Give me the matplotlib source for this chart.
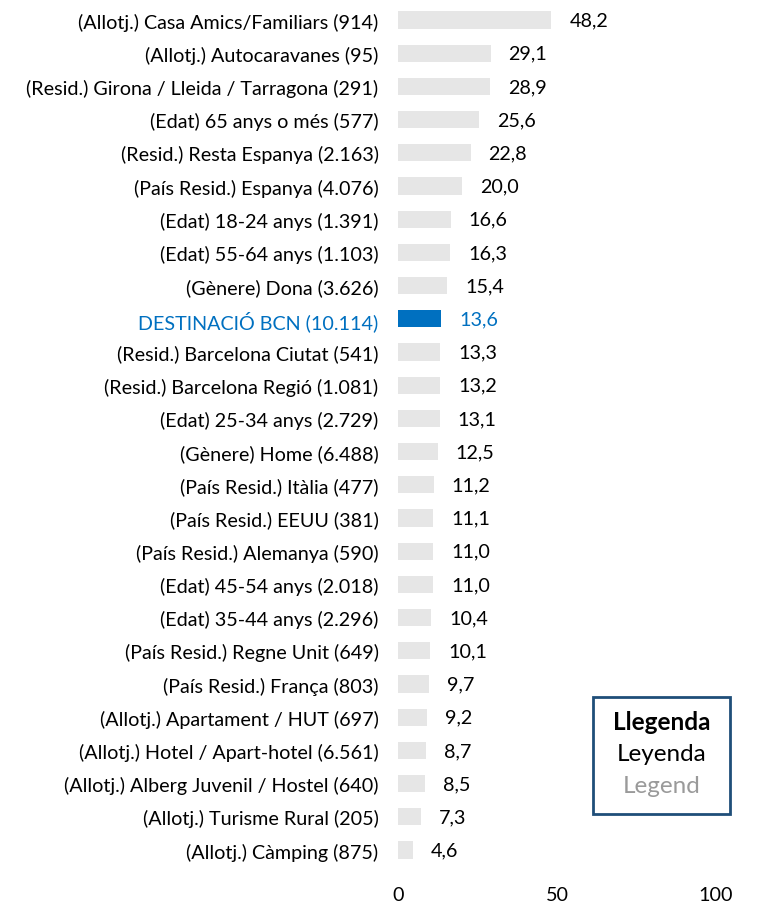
import matplotlib
matplotlib.use("Agg")
import matplotlib.pyplot as plt
from matplotlib.patches import Rectangle

categories = [
    "(Allotj.) Casa Amics/Familiars (914)",
    "(Allotj.) Autocaravanes (95)",
    "(Resid.) Girona / Lleida / Tarragona (291)",
    "(Edat) 65 anys o més (577)",
    "(Resid.) Resta Espanya (2.163)",
    "(País Resid.) Espanya (4.076)",
    "(Edat) 18-24 anys (1.391)",
    "(Edat) 55-64 anys (1.103)",
    "(Gènere) Dona (3.626)",
    "DESTINACIÓ BCN (10.114)",
    "(Resid.) Barcelona Ciutat (541)",
    "(Resid.) Barcelona Regió (1.081)",
    "(Edat) 25-34 anys (2.729)",
    "(Gènere) Home (6.488)",
    "(País Resid.) Itàlia (477)",
    "(País Resid.) EEUU (381)",
    "(País Resid.) Alemanya (590)",
    "(Edat) 45-54 anys (2.018)",
    "(Edat) 35-44 anys (2.296)",
    "(País Resid.) Regne Unit (649)",
    "(País Resid.) França (803)",
    "(Allotj.) Apartament / HUT (697)",
    "(Allotj.) Hotel / Apart-hotel (6.561)",
    "(Allotj.) Alberg Juvenil / Hostel (640)",
    "(Allotj.) Turisme Rural (205)",
    "(Allotj.) Càmping (875)",
]
values = [48.2, 29.1, 28.9, 25.6, 22.8, 20.0, 16.6, 16.3, 15.4, 13.6, 13.3, 13.2,
          13.1, 12.5, 11.2, 11.1, 11.0, 11.0, 10.4, 10.1, 9.7, 9.2, 8.7, 8.5, 7.3, 4.6]
highlight = "DESTINACIÓ BCN (10.114)"
x_ticks = [0, 50, 100]
legend_lines = ["Llegenda", "Leyenda", "Legend"]

plt.rcParams['font.family'] = ['Lato', 'DejaVu Sans']
FS = 14.2

W, H = 761, 903
fig = plt.figure(figsize=(W / 100, H / 100), dpi=100)
n = len(categories)
top_px, bot_px = 21, 851
step = (bot_px - top_px) / (n - 1)
ax_top = top_px - step / 2
ax_bot = bot_px + step / 2
left_px, right_px = 398, 716
ax = fig.add_axes([left_px / W, 1 - ax_bot / H, (right_px - left_px) / W, (ax_bot - ax_top) / H])

blue = "#0070C0"
gray = "#E6E6E6"
ys = list(range(n))
colors = [blue if c == highlight else gray for c in categories]
ax.barh(ys, values, height=0.52, color=colors)
ax.set_ylim(n - 0.5, -0.5)
ax.set_xlim(0, 100)
ax.set_yticks(ys)
ax.set_yticklabels(categories, fontsize=FS)
for lab, c in zip(ax.get_yticklabels(), categories):
    lab.set_color(blue if c == highlight else "black")
ax.set_xticks(x_ticks)
ax.set_xticklabels([str(t) for t in x_ticks], fontsize=FS)
ax.tick_params(axis='y', length=0, pad=14)
ax.tick_params(axis='x', length=0, pad=14)
for s in ax.spines.values():
    s.set_visible(False)

for y, v, c in zip(ys, values, categories):
    ax.annotate(f"{v:.1f}".replace(".", ","), xy=(v, y), xytext=(13, 0),
                textcoords="offset points", va="center", ha="left", fontsize=FS,
                color=blue if c == highlight else "black")

# Legend box
bx0, by0, bx1, by1 = 593, 698, 730, 815
fig.patches.append(Rectangle((bx0 / W, 1 - by1 / H), (bx1 - bx0) / W, (by1 - by0) / H,
                             transform=fig.transFigure, fill=False,
                             edgecolor="#1F4E79", linewidth=2))
cx = (bx0 + bx1) / 2 / W
fig.text(cx, 1 - 723 / H, legend_lines[0], ha="center", va="center", fontsize=17.5,
         fontweight="bold", color="black")
fig.text(cx, 1 - 755 / H, legend_lines[1], ha="center", va="center", fontsize=17.5,
         color="black")
fig.text(cx, 1 - 787 / H, legend_lines[2], ha="center", va="center", fontsize=17.5,
         color="#9A9A9A")

fig.savefig("out.png", dpi=100)
